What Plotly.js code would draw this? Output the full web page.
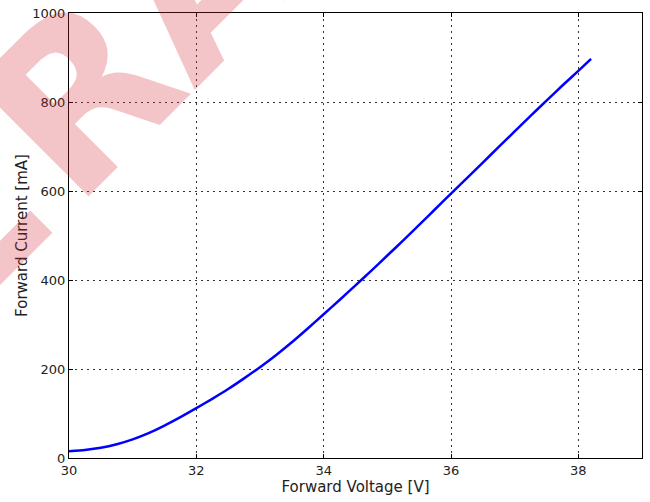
<!DOCTYPE html>
<html>
<head>
<meta charset="utf-8">
<script src="https://cdn.plot.ly/plotly-3.0.1.min.js"></script>
<style>html,body{margin:0;padding:0;background:#fff;}#chart{width:650px;height:502px;}</style>
</head>
<body>
<div id="chart"></div>
<script>
const voltage = [30.0, 30.25, 30.5, 30.75, 31.0, 31.25, 31.5, 31.75, 32.0, 32.25, 32.5, 32.75, 33.0, 33.25, 33.5, 33.75, 34.0, 34.25, 34.5, 34.75, 35.0, 35.25, 35.5, 35.75, 36.0, 36.25, 36.5, 36.75, 37.0, 37.25, 37.5, 37.75, 38.0, 38.2];
const current = [15, 18, 23, 31, 42, 56, 73, 92, 112, 133, 155, 179, 204, 231, 260, 291, 323, 355, 388, 421, 455, 489, 524, 559, 594, 629, 664, 699, 734, 769, 803, 837, 870, 897];
const xTicks = [30, 32, 34, 36, 38];
const yTicks = [0, 200, 400, 600, 800, 1000];
const watermarkText = "L<span style='font-size:150px'>\u2006</span>RA";

const fontFam = "DejaVu Sans, Bitstream Vera Sans, sans-serif";
const axisCommon = {
  showline: true, linecolor: "#000", linewidth: 1, mirror: "allticks",
  ticks: "inside", ticklen: 4, tickwidth: 1, tickcolor: "#000",
  showgrid: true, gridcolor: "#333", gridwidth: 1, griddash: "1.5px,4.5px",
  zeroline: false,
  tickfont: {family: fontFam, size: 13, color: "#222"}
};

const layout = {
  width: 650, height: 502,
  margin: {l: 69, r: 8, t: 13, b: 44},
  paper_bgcolor: "#fff", plot_bgcolor: "#fff",
  showlegend: false,
  xaxis: Object.assign({}, axisCommon, {
    range: [30, 39], tickvals: xTicks, ticktext: xTicks.map(String),
    ticklabelstandoff: 0,
    title: {text: "Forward Voltage [V]", font: {family: fontFam, size: 15, color: "#222"}, standoff: 0}
  }),
  yaxis: Object.assign({}, axisCommon, {
    range: [0, 1000], tickvals: yTicks, ticktext: yTicks.map(String),
    ticklabelstandoff: 0,
    title: {text: "Forward Current [mA]", font: {family: fontFam, size: 15, color: "#222"}, standoff: 1}
  }),
  annotations: [{
    text: watermarkText, xref: "paper", yref: "paper",
    x: 0.0236, y: 0.815, xanchor: "center", yanchor: "middle",
    showarrow: false, textangle: -45,
    font: {family: "DejaVu Sans", size: 220, weight: "bold", color: "rgba(214,40,50,0.27)"}
  }]
};

const trace = {
  x: voltage, y: current, type: "scatter", mode: "lines",
  line: {color: "#0000ff", width: 2.5, shape: "spline", smoothing: 0.5}
};

Plotly.newPlot("chart", [trace], layout, {displayModeBar: false, staticPlot: true});
</script>
</body>
</html>
